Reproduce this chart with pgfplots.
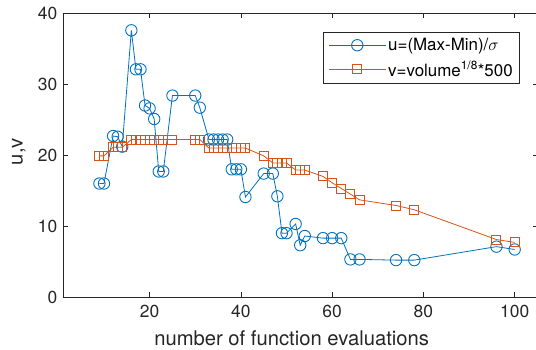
\documentclass[border=0pt]{standalone}
\usepackage{pgfplots}
\pgfplotsset{compat=1.18}
\usepackage{fontspec}
\setmainfont{TeX Gyre Heros}
\definecolor{mblue}{rgb}{0,0.447,0.741}
\definecolor{morange}{rgb}{0.85,0.325,0.098}
\definecolor{axgray}{rgb}{0.15,0.15,0.15}

\pgfplotstableread{
x u
9 16.0
10 16.0
12 22.7
13 22.6
14 21.2
16 37.6
17 32.1
18 32.1
19 27.0
20 26.6
21 25.1
22 17.7
23 17.7
25 28.4
30 28.4
31 26.7
33 22.2
34 22.2
35 22.2
36 22.2
37 22.2
38 18.0
39 18.0
40 18.0
41 14.1
45 17.4
47 17.4
48 14.2
49 9.0
50 9.0
52 10.3
53 7.3
54 8.6
58 8.3
60 8.3
62 8.3
64 5.3
66 5.3
74 5.2
78 5.2
96 7.1
100 6.7
}\udata

\pgfplotstableread{
x v
9 19.9
10 19.9
12 21.1
13 21.1
14 21.1
16 22.2
17 22.2
18 22.2
19 22.2
20 22.2
21 22.2
22 22.2
23 22.2
25 22.2
30 22.2
31 22.2
33 21.0
34 21.0
35 21.0
36 21.0
37 21.0
38 21.0
39 21.0
40 21.0
41 21.0
45 19.9
47 18.9
48 18.9
49 18.9
50 18.9
52 17.9
53 17.9
54 17.9
58 17.0
60 16.1
62 15.3
64 14.5
66 13.7
74 12.9
78 12.3
96 8.1
100 7.7
}\vdata

\begin{document}
\begin{tikzpicture}
\useasboundingbox (-62.9bp,-53bp) rectangle (473.1bp,297bp);
\begin{axis}[
  at={(0,0)}, anchor=south west,
  scale only axis, width=474.6bp, height=283.7bp,
  xmin=1, xmax=105, ymin=0, ymax=40,
  xtick={20,40,60,80,100}, ytick={0,10,20,30,40},
  tick align=inside, major tick length=5bp,
  axis line style={axgray, line width=0.6bp},
  tick style={axgray, line width=0.6bp},
  /pgf/number format/assume math mode=true,
  ticklabel style={font=\fontsize{17.5}{20}\selectfont, text=axgray},
  xticklabel style={yshift=-5bp},
  yticklabel style={xshift=-2bp},
  xlabel={number of function evaluations},
  ylabel={u,v},
  label style={font=\fontsize{20.3}{24}\selectfont, text=axgray},
  xlabel style={at={(axis description cs:0.482,-0.1445)}, anchor=center},
  ylabel style={at={(axis description cs:-0.0927,0.512)}, anchor=center},
  legend style={at={(axis description cs:0.9631,0.934)}, anchor=north east,
    draw=axgray, line width=0.6bp, font=\fontsize{17}{20}\selectfont,
    inner xsep=5bp, inner ysep=4bp, row sep=5bp},
  legend cell align=left,
  legend image code/.code={\draw[mark repeat=2,mark phase=2] plot coordinates {(0bp,0bp) (28.5bp,0bp) (57bp,0bp)};},
]
\addplot[mblue, line width=0.8bp, mark=o, mark size=5.7bp, mark options={line width=0.9bp}] table[x=x,y=u] {\udata};
\addlegendentry{u=(Max-Min)/$\sigma$}
\addplot[morange, line width=0.8bp, mark=square, mark size=4.5bp, mark options={line width=0.9bp}] table[x=x,y=v] {\vdata};
\addlegendentry{v=volume\textsuperscript{1/8}*500}
\end{axis}
\end{tikzpicture}
\end{document}
